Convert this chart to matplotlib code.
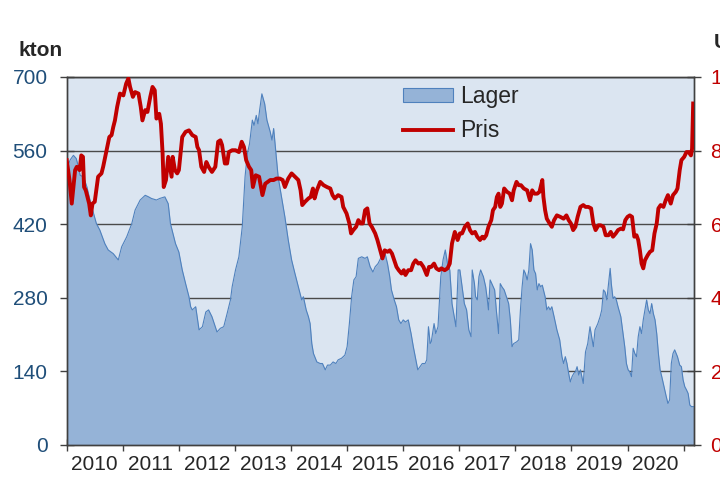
import matplotlib
matplotlib.use("Agg")
import matplotlib.pyplot as plt
import matplotlib.patches as mpatches
from matplotlib.lines import Line2D
import numpy as np

plt.rcParams['font.family'] = ['Liberation Sans', 'DejaVu Sans']

# Lager (kton)
stock_years = [
    2010.00, 2010.06, 2010.12, 2010.17, 2010.21, 2010.24, 2010.30, 2010.36, 2010.43, 2010.53,
    2010.59, 2010.68, 2010.74, 2010.83, 2010.92, 2010.98, 2011.07, 2011.16, 2011.22, 2011.31,
    2011.40, 2011.46, 2011.51, 2011.60, 2011.66, 2011.75, 2011.81, 2011.85, 2011.94, 2012.00,
    2012.06, 2012.12, 2012.18, 2012.21, 2012.24, 2012.30, 2012.36, 2012.42, 2012.48, 2012.53,
    2012.59, 2012.68, 2012.74, 2012.80, 2012.86, 2012.92, 2012.95, 2013.01, 2013.07, 2013.13,
    2013.18, 2013.22, 2013.26, 2013.31, 2013.34, 2013.38, 2013.41, 2013.44, 2013.48, 2013.53,
    2013.57, 2013.63, 2013.66, 2013.69, 2013.72, 2013.77, 2013.83, 2013.89, 2013.95, 2014.01,
    2014.07, 2014.13, 2014.19, 2014.22, 2014.27, 2014.31, 2014.34, 2014.37, 2014.40, 2014.46,
    2014.52, 2014.56, 2014.61, 2014.65, 2014.70, 2014.75, 2014.80, 2014.84, 2014.90, 2014.96,
    2015.00, 2015.04, 2015.08, 2015.12, 2015.16, 2015.20, 2015.26, 2015.32, 2015.36, 2015.41,
    2015.46, 2015.50, 2015.55, 2015.61, 2015.67, 2015.72, 2015.76, 2015.79, 2015.84, 2015.88,
    2015.92, 2015.96, 2016.00, 2016.04, 2016.09, 2016.14, 2016.18, 2016.22, 2016.26, 2016.30,
    2016.34, 2016.39, 2016.42, 2016.45, 2016.48, 2016.50, 2016.55, 2016.58, 2016.62, 2016.67,
    2016.71, 2016.75, 2016.79, 2016.83, 2016.87, 2016.91, 2016.94, 2016.98, 2017.01, 2017.05,
    2017.09, 2017.13, 2017.17, 2017.21, 2017.23, 2017.27, 2017.29, 2017.32, 2017.35, 2017.38,
    2017.43, 2017.47, 2017.50, 2017.52, 2017.55, 2017.58, 2017.63, 2017.66, 2017.70, 2017.73,
    2017.76, 2017.80, 2017.84, 2017.88, 2017.91, 2017.94, 2017.97, 2018.02, 2018.06, 2018.09,
    2018.12, 2018.15, 2018.18, 2018.21, 2018.24, 2018.27, 2018.30, 2018.33, 2018.36, 2018.39,
    2018.42, 2018.45, 2018.48, 2018.50, 2018.53, 2018.56, 2018.59, 2018.62, 2018.65, 2018.69,
    2018.74, 2018.79, 2018.83, 2018.86, 2018.89, 2018.92, 2018.95, 2018.98, 2019.01, 2019.04,
    2019.07, 2019.10, 2019.13, 2019.16, 2019.21, 2019.25, 2019.29, 2019.33, 2019.36, 2019.39,
    2019.42, 2019.47, 2019.51, 2019.54, 2019.57, 2019.60, 2019.63, 2019.66, 2019.69, 2019.71,
    2019.74, 2019.77, 2019.80, 2019.83, 2019.88, 2019.92, 2019.95, 2019.98, 2020.01, 2020.04,
    2020.07, 2020.10, 2020.13, 2020.16, 2020.19, 2020.22, 2020.25, 2020.28, 2020.31, 2020.34,
    2020.37, 2020.40, 2020.43, 2020.46, 2020.49, 2020.52, 2020.55, 2020.58, 2020.61, 2020.65,
    2020.69, 2020.72, 2020.75, 2020.78, 2020.81, 2020.84, 2020.89, 2020.93, 2020.96, 2020.99,
    2021.02, 2021.05, 2021.08, 2021.11, 2021.14, 2021.19,
]
stock_kt = [
    523, 542, 551, 545, 529, 513, 510, 491, 459, 421,
    409, 383, 371, 364, 352, 377, 396, 421, 447, 466,
    475, 472, 469, 466, 469, 472, 459, 421, 383, 367,
    333, 307, 282, 263, 257, 263, 219, 225, 253, 257,
    244, 215, 222, 225, 250, 276, 301, 333, 358, 415,
    510, 554, 573, 618, 608, 627, 611, 637, 668, 649,
    618, 595, 580, 602, 567, 510, 472, 434, 390, 352,
    326, 301, 276, 282, 257, 244, 231, 193, 174, 158,
    155, 155, 143, 152, 152, 158, 155, 162, 165, 171,
    187, 231, 282, 314, 320, 355, 358, 355, 358, 339,
    329, 339, 345, 358, 367, 345, 320, 295, 276, 263,
    238, 231, 238, 234, 238, 212, 187, 165, 143, 149,
    155, 155, 162, 225, 193, 196, 231, 212, 225, 320,
    352, 371, 345, 333, 269, 244, 225, 333, 333, 301,
    269, 257, 219, 206, 333, 307, 282, 276, 320, 333,
    320, 301, 276, 257, 314, 307, 295, 257, 212, 307,
    301, 295, 282, 269, 238, 187, 193, 196, 200, 257,
    301, 333, 326, 314, 333, 383, 371, 333, 326, 295,
    307, 301, 304, 295, 282, 257, 263, 257, 263, 244,
    219, 200, 168, 155, 168, 155, 136, 120, 130, 136,
    139, 149, 133, 143, 117, 177, 193, 225, 206, 187,
    219, 231, 244, 257, 295, 291, 276, 307, 336, 307,
    279, 282, 276, 263, 244, 212, 187, 155, 143, 139,
    130, 184, 174, 168, 206, 225, 212, 238, 257, 276,
    257, 250, 269, 250, 238, 212, 174, 143, 130, 111,
    92, 79, 86, 155, 174, 181, 168, 152, 149, 124,
    111, 105, 98, 76, 73, 73,
]

# Pris (USD/ton)
price_years = [
    2010.00, 2010.05, 2010.09, 2010.15, 2010.18, 2010.23, 2010.26, 2010.29, 2010.31, 2010.34,
    2010.37, 2010.40, 2010.43, 2010.46, 2010.50, 2010.56, 2010.62, 2010.65, 2010.71, 2010.76,
    2010.80, 2010.83, 2010.86, 2010.90, 2010.95, 2011.01, 2011.06, 2011.10, 2011.13, 2011.18,
    2011.22, 2011.28, 2011.32, 2011.35, 2011.40, 2011.44, 2011.49, 2011.53, 2011.57, 2011.60,
    2011.65, 2011.68, 2011.71, 2011.73, 2011.77, 2011.81, 2011.87, 2011.89, 2011.93, 2011.97,
    2012.00, 2012.06, 2012.12, 2012.18, 2012.24, 2012.30, 2012.33, 2012.36, 2012.40, 2012.45,
    2012.49, 2012.53, 2012.59, 2012.65, 2012.70, 2012.74, 2012.77, 2012.82, 2012.86, 2012.89,
    2012.95, 2013.01, 2013.07, 2013.12, 2013.16, 2013.20, 2013.25, 2013.29, 2013.32, 2013.37,
    2013.43, 2013.49, 2013.54, 2013.63, 2013.69, 2013.74, 2013.80, 2013.85, 2013.89, 2013.95,
    2014.01, 2014.07, 2014.13, 2014.17, 2014.20, 2014.25, 2014.31, 2014.35, 2014.39, 2014.42,
    2014.46, 2014.52, 2014.58, 2014.64, 2014.70, 2014.74, 2014.78, 2014.84, 2014.90, 2014.93,
    2014.99, 2015.04, 2015.07, 2015.11, 2015.16, 2015.20, 2015.24, 2015.28, 2015.32, 2015.36,
    2015.40, 2015.44, 2015.50, 2015.54, 2015.59, 2015.63, 2015.67, 2015.72, 2015.76, 2015.80,
    2015.84, 2015.88, 2015.92, 2015.97, 2016.01, 2016.04, 2016.09, 2016.14, 2016.18, 2016.22,
    2016.27, 2016.31, 2016.36, 2016.42, 2016.46, 2016.50, 2016.55, 2016.59, 2016.64, 2016.68,
    2016.74, 2016.79, 2016.83, 2016.87, 2016.92, 2016.97, 2017.01, 2017.05, 2017.10, 2017.15,
    2017.19, 2017.23, 2017.28, 2017.32, 2017.37, 2017.41, 2017.44, 2017.48, 2017.52, 2017.57,
    2017.60, 2017.64, 2017.67, 2017.70, 2017.73, 2017.76, 2017.80, 2017.85, 2017.90, 2017.94,
    2017.97, 2018.02, 2018.06, 2018.10, 2018.15, 2018.21, 2018.26, 2018.30, 2018.34, 2018.39,
    2018.43, 2018.48, 2018.50, 2018.53, 2018.56, 2018.61, 2018.65, 2018.69, 2018.74, 2018.80,
    2018.86, 2018.91, 2018.95, 2018.99, 2019.03, 2019.07, 2019.11, 2019.16, 2019.21, 2019.25,
    2019.30, 2019.35, 2019.39, 2019.43, 2019.48, 2019.52, 2019.57, 2019.61, 2019.66, 2019.70,
    2019.74, 2019.79, 2019.83, 2019.88, 2019.92, 2019.96, 2020.00, 2020.04, 2020.08, 2020.12,
    2020.16, 2020.19, 2020.22, 2020.25, 2020.28, 2020.31, 2020.36, 2020.40, 2020.44, 2020.48,
    2020.52, 2020.55, 2020.59, 2020.64, 2020.68, 2020.72, 2020.77, 2020.81, 2020.86, 2020.89,
    2020.93, 2020.96, 2021.01, 2021.05, 2021.09, 2021.13, 2021.15, 2021.17,
]
price_usd = [
    7740, 7200, 6560, 7470, 7560, 7470, 7870, 7830, 7010, 6920,
    6740, 6560, 6240, 6560, 6610, 7290, 7380, 7560, 8010, 8370,
    8420, 8640, 8820, 9190, 9550, 9500, 9820, 9960, 9730, 9460,
    9590, 9550, 9190, 8820, 9100, 9050, 9460, 9730, 9640, 8870,
    9000, 8730, 7920, 7010, 7200, 7830, 7290, 7830, 7470, 7380,
    7470, 8370, 8510, 8550, 8420, 8370, 8100, 8010, 7560, 7420,
    7690, 7560, 7420, 7560, 8240, 8280, 8150, 7650, 7650, 7960,
    8010, 8010, 7960, 8240, 8100, 7740, 7560, 7470, 7010, 7330,
    7290, 6790, 7100, 7200, 7200, 7240, 7240, 7200, 7010, 7240,
    7380, 7290, 7200, 6920, 6520, 6610, 6700, 6740, 6970, 6700,
    6920, 7150, 7060, 7010, 6970, 6790, 6700, 6790, 6740, 6470,
    6290, 6020, 5750, 5840, 5930, 6110, 6020, 6020, 6380, 6430,
    6020, 5930, 5750, 5570, 5290, 5070, 5290, 5250, 5290, 5200,
    5020, 4840, 4750, 4660, 4750, 4620, 4750, 4750, 4930, 5020,
    4930, 4950, 4840, 4620, 4840, 4840, 4930, 4800, 4750, 4800,
    4750, 4800, 4930, 5480, 5790, 5570, 5750, 5750, 5930, 6020,
    5840, 5750, 5790, 5660, 5570, 5660, 5610, 5700, 5930, 6110,
    6380, 6470, 6740, 6830, 6470, 6560, 6970, 6880, 6830, 6650,
    6920, 7150, 7060, 7060, 6970, 6920, 6650, 6920, 6830, 6830,
    6880, 7200, 6740, 6380, 6150, 6020, 5930, 6110, 6240, 6200,
    6150, 6240, 6110, 6020, 5840, 5930, 6200, 6470, 6520, 6470,
    6470, 6430, 6020, 5840, 5970, 5970, 5930, 5700, 5700, 5790,
    5660, 5750, 5840, 5880, 5860, 6110, 6200, 6240, 6200, 5660,
    5700, 5570, 5290, 4930, 4800, 5020, 5160, 5250, 5290, 5750,
    6020, 6430, 6520, 6470, 6650, 6790, 6560, 6790, 6880, 6970,
    7470, 7740, 7830, 7960, 7960, 7870, 8050, 9280,
]

years = list(range(2010, 2021))
left_ticks = [0, 140, 280, 420, 560, 700]
right_ticks = [0, 2000, 4000, 6000, 8000, 10000]
right_labels = ['0', '2 000', '4 000', '6 000', '8 000', '10 000']

fig = plt.figure(figsize=(7.2, 4.79), dpi=100)
fig.patch.set_facecolor('white')
ax = fig.add_axes([66.7 / 720, 34 / 479, 627.6 / 720, 368 / 479])
ax.set_facecolor('#dbe5f1')

ax.fill_between(stock_years, stock_kt, 0, color='#95b3d7', linewidth=0, zorder=2)
ax.plot(stock_years, stock_kt, color='#4f81bd', linewidth=0.8, zorder=3)

ax.set_xlim(2010, 2021.19)
ax.set_ylim(0, 700)
ax.set_yticks(left_ticks)
ax.set_yticklabels([str(v) for v in left_ticks], color='#1f4e79', fontsize=15)
ax.yaxis.grid(True, color='#4a4a4a', linewidth=1.0, zorder=0)
ax.set_axisbelow(True)

ax.set_xticks(list(range(2010, 2022)))
ax.set_xticklabels([])
ax.set_xticks([y + 0.5 for y in years], minor=True)
ax.set_xticklabels([str(y) for y in years], minor=True, fontsize=15, color='#262626')
ax.tick_params(axis='x', which='major', direction='inout', length=9, width=1, color='#404040')
ax.tick_params(axis='x', which='minor', length=0, pad=7)
ax.tick_params(axis='y', direction='inout', length=9.5, width=1, color='#404040', pad=9)

for s in ax.spines.values():
    s.set_color('#404040')
    s.set_linewidth(1.0)

ax2 = ax.twinx()
ax2.plot(price_years, price_usd, color='#c00000', linewidth=2.8, zorder=5)
ax2.set_ylim(0, 10000)
ax2.set_yticks(right_ticks)
ax2.set_yticklabels(right_labels, color='#c00000', fontsize=15)
ax2.tick_params(axis='y', direction='inout', length=9.5, width=1, color='#404040', pad=7)
for s in ax2.spines.values():
    s.set_color('#404040')
    s.set_linewidth(1.0)

fig.text(18 / 720, (479 - 56) / 479, 'kton', fontsize=15, fontweight='bold',
         color='#262626', va='baseline', ha='left')
fig.text(714 / 720, (479 - 48.5) / 479, 'USD/ton', fontsize=15, fontweight='bold',
         color='#262626', va='baseline', ha='left')

h1 = mpatches.Patch(facecolor='#95b3d7', edgecolor='#4f81bd', linewidth=0.8)
h2 = Line2D([0], [0], color='#c00000', linewidth=2.8)
leg = ax2.legend([h1, h2], ['Lager', 'Pris'], loc='upper left',
                 bbox_to_anchor=(403 / 720, (479 - 85) / 479), bbox_transform=fig.transFigure,
                 frameon=False, fontsize=16.5, handlelength=2.2, handleheight=0.55,
                 handletextpad=0.3, labelspacing=0.5, borderpad=0, borderaxespad=0)
for t in leg.get_texts():
    t.set_color('#262626')

fig.savefig('out.png', dpi=100)
